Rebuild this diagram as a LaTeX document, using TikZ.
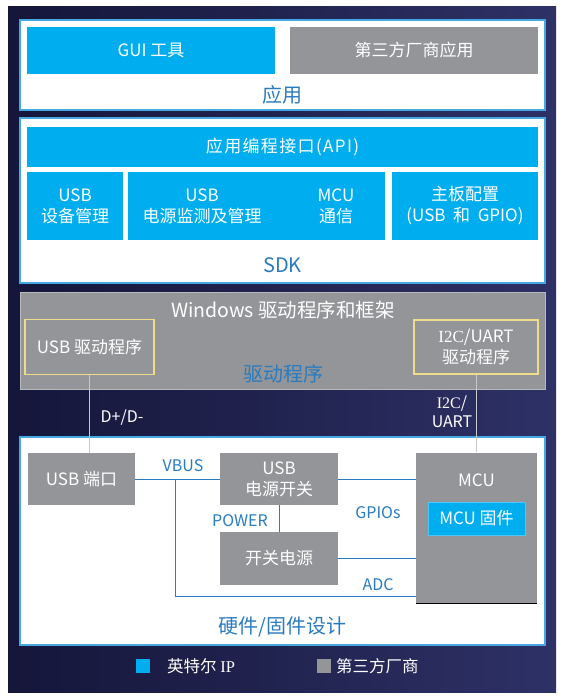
\documentclass[tikz,border=0pt]{standalone}
\usepackage{fontspec}
\setmainfont{Noto Sans CJK SC}
\newfontfamily\serifip{Liberation Serif}
\definecolor{bgL}{HTML}{15163A}
\definecolor{bgR}{HTML}{2E3166}
\definecolor{iblue}{HTML}{00AEEF}
\definecolor{tgray}{HTML}{939598}
\definecolor{lblue}{HTML}{2A7BBF}
\definecolor{fblue}{HTML}{45A8E0}
\definecolor{ylw}{HTML}{EEDC8A}
\definecolor{lgray}{HTML}{C8C8CC}
\tikzset{
  frame/.style={draw=fblue, line width=1.6pt, fill=white, minimum width=525pt, inner sep=0pt},
  bbox/.style={fill=iblue, text=white, inner sep=0pt, align=center, font=\fontsize{17}{21}\selectfont},
  gbox/.style={fill=tgray, text=white, inner sep=0pt, align=center, font=\fontsize{17}{21}\selectfont},
  ybox/.style={draw=ylw, line width=1.6pt, fill=tgray, text=white, inner sep=0pt, align=center, font=\fontsize{17}{21}\selectfont},
  lbl/.style={text=lblue, inner sep=0pt, font=\fontsize{20}{24}\selectfont},
  sig/.style={text=lblue, inner sep=0pt, align=center, font=\fontsize{16}{19}\selectfont},
  wsig/.style={text=white, inner sep=0pt, align=center, font=\fontsize{16}{19}\selectfont},
  wire/.style={draw=lblue, line width=0.8pt},
  gwire/.style={draw=lgray, line width=1pt},
  btxt/.style={text=white, inner sep=0pt, align=center, font=\fontsize{17}{21}\selectfont}
}
\begin{document}
\begin{tikzpicture}[x=1pt,y=-1pt]
\useasboundingbox (0,0) rectangle (564,700);
\fill[white] (0,0) rectangle (564,700);
\shade[left color=bgL, right color=bgR] (8,7) rectangle (556,692);

% Application layer
\node[frame, minimum height=90pt] (app) at (282.5,65) {};
\node[bbox, minimum width=248pt, minimum height=47pt] (gui) at (151,50.5) {GUI 工具};
\node[gbox, minimum width=248pt, minimum height=47pt] (third) at (414,50.5) {第三方厂商应用};
\node[lbl] (applbl) at (282.5,95) {应用};

% SDK layer
\node[frame, minimum height=165pt] (sdk) at (282.5,200.5) {};
\node[bbox, minimum width=511pt, minimum height=40pt, font=\fontsize{17}{21}\addfontfeatures{LetterSpace=8}] (api) at (282.5,147) {应用编程接口(API)};
\node[bbox, minimum width=96pt, minimum height=68pt] (usbdev) at (75,206) {USB\\设备管理};
\node[bbox, minimum width=257pt, minimum height=68pt] (mid) at (256.5,206) {};
\node[btxt] (pmon) at (202,206) {USB\\电源监测及管理};
\node[btxt] (mcucom) at (336,206) {MCU\\通信};
\node[bbox, minimum width=146pt, minimum height=68pt] (board) at (465,206) {主板配置\\(USB\ \ 和\ \ GPIO)};
\node[lbl] (sdklbl) at (282.5,265) {SDK};

% Driver layer
\node[fill=tgray, draw=lgray!70!tgray, line width=0.8pt, minimum width=525pt, minimum height=97pt, inner sep=0pt] (drv) at (282.5,341) {};
\node[text=white, inner sep=0pt, font=\fontsize{19.5}{23}\selectfont] (drvtitle) at (283,310) {Windows 驱动程序和框架};
\node[ybox, minimum width=129pt, minimum height=55pt] (usbdrv) at (89.5,347) {USB 驱动程序};
\node[ybox, minimum width=124pt, minimum height=54pt] (i2cdrv) at (476,347) {{\serifip I2C}/UART\\驱动程序};
\node[lbl] (drvlbl) at (283,374) {驱动程序};

% Hardware layer
\node[frame, minimum height=208pt] (hw) at (282.5,541) {};
\node[gbox, minimum width=107pt, minimum height=52pt] (usbport) at (81.5,479) {USB 端口};
\node[gbox, minimum width=118pt, minimum height=52pt] (pwrsw) at (279,479) {USB\\电源开关};
\node[gbox, minimum width=121pt, minimum height=151pt] (mcu) at (476.5,528) {};
\draw[black, line width=1.2pt] (mcu.south west) -- (mcu.south east);
\node[btxt] (mcutxt) at (476.5,480) {MCU};
\node[bbox, draw=iblue!70!white, line width=0.8pt, minimum width=97pt, minimum height=33pt] (fw) at (476.5,518.5) {MCU 固件};
\node[gbox, minimum width=118pt, minimum height=53pt] (smps) at (279,558.5) {开关电源};
\node[lbl] (hwlbl) at (282.5,627) {硬件/固件设计};

% connectors
\draw[gwire] (usbdrv.south) -- (usbdrv.south |- usbport.north);
\draw[gwire] (i2cdrv.south) -- (i2cdrv.south |- mcu.north);
\node[wsig] (dpm) at (122,418) {D+/D-};
\node[wsig] (i2clbl) at (452,412) {{\serifip I2C}/\\UART};

\coordinate (vb) at (175,479);
\coordinate (vbb) at (175,596);
\draw[wire] (usbport.east) -- (pwrsw.west);
\draw[wire] (vb) -- (vbb) -- (vbb -| mcu.west);
\draw[wire] (pwrsw.south) -- (smps.north);
\draw[wire] (pwrsw.east) -- (pwrsw.east -| mcu.west);
\draw[wire] (smps.east) -- (smps.east -| mcu.west);
\node[sig] (vbus) at (183,466) {VBUS};
\node[sig] (power) at (240,521) {POWER};
\node[sig] (gpios) at (378,513) {GPIOs};
\node[sig] (adc) at (378,585) {ADC};

% legend
\node[fill=iblue, minimum width=14pt, minimum height=14pt, inner sep=0pt] (legb) at (143,666) {};
\node[text=white, anchor=west, inner sep=0pt, font=\fontsize{16.5}{20}\selectfont] (legbt) at (167,666) {英特尔 {\serifip IP}};
\node[fill=tgray, minimum width=14pt, minimum height=14pt, inner sep=0pt] (legg) at (324,666) {};
\node[text=white, anchor=west, inner sep=0pt, font=\fontsize{16.5}{20}\selectfont] (leggt) at (336,666) {第三方厂商};
\end{tikzpicture}
\end{document}
